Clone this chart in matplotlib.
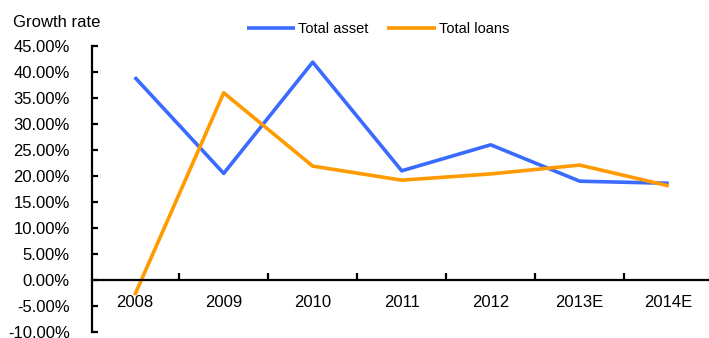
import matplotlib
matplotlib.use("Agg")
import matplotlib.pyplot as plt
import numpy as np

# values (percent)
years = ['2008', '2009', '2010', '2011', '2012', '2013E', '2014E']
total_asset = [39.0, 20.5, 41.9, 21.0, 26.0, 19.0, 18.6]
total_loans = [-2.9, 36.0, 21.9, 19.2, 20.4, 22.1, 18.1]
yticks = [-10, -5, 0, 5, 10, 15, 20, 25, 30, 35, 40, 45]

plt.rcParams['font.family'] = ['Liberation Sans', 'DejaVu Sans']

W, H = 709, 338
fig = plt.figure(figsize=(W / 100, H / 100), dpi=100)
# one category = 89 px, axis starts at x=92, y from 46 to 332
ax = fig.add_axes([92 / W, (H - 332) / H, 623 / W, (332 - 46) / H])

x = np.arange(len(years))
ax.plot(x, total_asset, color='#3a6bff', lw=2.6, label='Total asset', solid_capstyle='butt')
ax.plot(x, total_loans, color='#ff9a00', lw=2.6, label='Total loans', solid_capstyle='butt')

ax.set_xlim(-0.48, 6.52)
ax.set_ylim(-10, 45)

ax.spines['top'].set_visible(False)
ax.spines['right'].set_visible(False)
ax.spines['bottom'].set_position(('data', 0))
ax.spines['left'].set_linewidth(1.6)
ax.spines['bottom'].set_linewidth(1.6)

ax.set_yticks(yticks)
ax.set_yticklabels(['%.2f%%' % v for v in yticks])
ax.tick_params(axis='y', direction='in', length=4, width=1.6, pad=16, labelsize=12)

ax.set_xticks(x)
ax.set_xticklabels(years)
ax.tick_params(axis='x', which='major', length=0, pad=11, labelsize=12)
ax.set_xticks(x[:-1] + 0.5, minor=True)
ax.tick_params(axis='x', which='minor', direction='in', length=5, width=1.6)

fig.text(13 / W, 1 - 27 / H, 'Growth rate', fontsize=12, ha='left', va='baseline')

fig.legend(loc='center', bbox_to_anchor=(378 / W, 1 - 29 / H), ncol=2, frameon=False,
           fontsize=10.5, handlelength=3.3, handletextpad=0.2, columnspacing=1.3)

fig.savefig('out.png', dpi=100)
